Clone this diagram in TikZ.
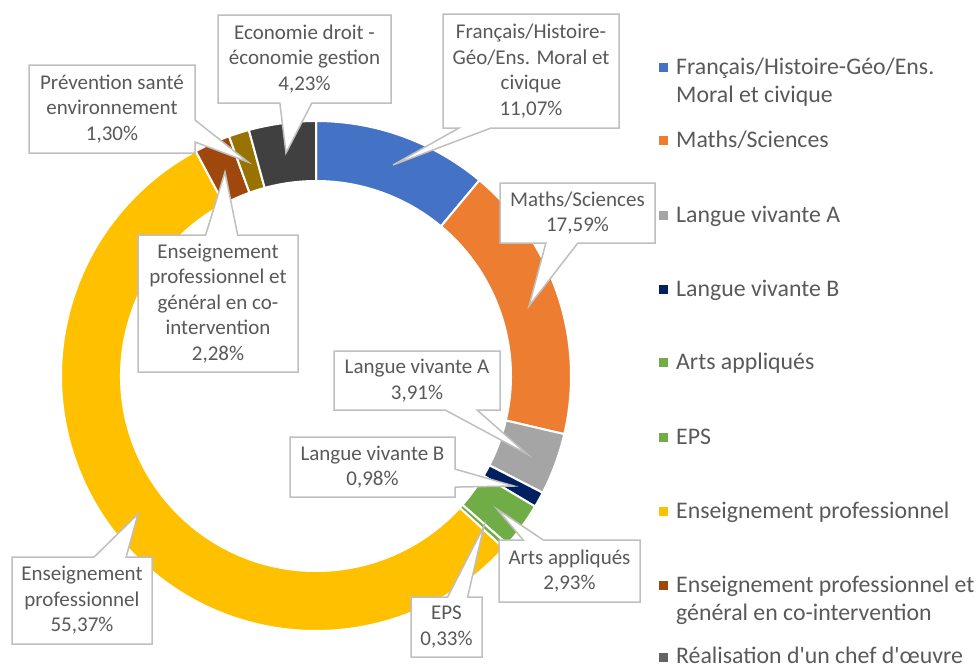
\documentclass[tikz,border=0pt]{standalone}
\usepackage{fontspec}
\setmainfont{Carlito}
\usetikzlibrary{shapes.callouts}

\definecolor{cFr}{HTML}{4472C4}
\definecolor{cMa}{HTML}{ED7D31}
\definecolor{cLa}{HTML}{A5A5A5}
\definecolor{cLb}{HTML}{002060}
\definecolor{cAr}{HTML}{70AD47}
\definecolor{cEp}{HTML}{70AD47}
\definecolor{cPro}{HTML}{FFC000}
\definecolor{cCo}{HTML}{9E480E}
\definecolor{cPse}{HTML}{997300}
\definecolor{cEco}{HTML}{404040}
\definecolor{cRea}{HTML}{636363}
\definecolor{txtgray}{HTML}{595959}
\definecolor{boxgray}{HTML}{BFBFBF}

\begin{document}
\begin{tikzpicture}[x=1pt, y=-1pt,
		callbox/.style={rectangle callout, draw=boxgray, line width=1.5pt, fill=white,
			text=txtgray, inner sep=0pt, align=center, callout pointer width=32pt,
			font=\fontsize{21}{25.5}\selectfont},
		legsq/.style={rectangle, inner sep=0pt, minimum size=9pt},
		legtxt/.style={anchor=base west, inner sep=0pt, align=left, text=txtgray,
			font=\fontsize{23.8}{28}\selectfont}]
	\useasboundingbox (0,0) rectangle (979,665);
	\clip (0,0) rectangle (979,665);

	% ring
	\begin{scope}[shift={(316,376)}]
		\foreach \a/\b/\c in {-90/-50.148/cFr, -50.148/13.176/cMa, 13.176/27.252/cLa,
				27.252/30.78/cLb, 30.78/41.328/cAr, 41.328/42.516/cEp, 42.516/241.848/cPro,
				241.848/250.056/cCo, 250.056/254.736/cPse, 254.736/270/cEco}
			\filldraw[fill=\c, draw=white, line width=2pt] (\a:255) arc[start angle=\a, end angle=\b, radius=255]
				-- (\b:195) arc[start angle=\b, end angle=\a, radius=195] -- cycle;
	\end{scope}

	% pointer tips
	\coordinate (pFr) at (393,165);
	\coordinate (pMa) at (529,306);
	\coordinate (pLa) at (527,454);
	\coordinate (pLb) at (514,486);
	\coordinate (pAr) at (497,509);
	\coordinate (pEp) at (484,526);
	\coordinate (pPro) at (138,514);
	\coordinate (pCo) at (225,172);
	\coordinate (pPse) at (248,162);
	\coordinate (pEco) at (286,153);

	% data labels
	\node[callbox, minimum width=176pt, minimum height=114pt, callout absolute pointer={(pFr)}] (bFr) at (531,71)
		{Français/Histoire-\\Géo/Ens. Moral et\\civique\\11,07\%};
	\node[callbox, minimum width=155pt, minimum height=60pt, callout absolute pointer={(pMa)}] (bMa) at (577.5,213)
		{Maths/Sciences\\17,59\%};
	\node[callbox, minimum width=166pt, minimum height=59pt, callout absolute pointer={(pLa)}] (bLa) at (417,380.5)
		{Langue vivante A\\3,91\%};
	\node[callbox, minimum width=165pt, minimum height=60pt, callout pointer width=18pt, callout absolute pointer={(pLb)}] (bLb) at (372.5,467)
		{Langue vivante B\\0,98\%};
	\node[callbox, minimum width=141pt, minimum height=62pt, callout pointer width=20pt, callout absolute pointer={(pAr)}] (bAr) at (569.5,571)
		{Arts appliqués\\2,93\%};
	\node[callbox, minimum width=71pt, minimum height=60pt, callout pointer width=20pt, callout absolute pointer={(pEp)}] (bEp) at (446.5,627)
		{EPS\\0,33\%};
	\node[callbox, minimum width=140pt, minimum height=87pt, callout absolute pointer={(pPro)}] (bPro) at (82,600.5)
		{Enseignement\\professionnel\\55,37\%};
	\node[callbox, minimum width=160pt, minimum height=137pt, callout absolute pointer={(pCo)}] (bCo) at (218,303.5)
		{Enseignement\\professionnel et\\général en co-\\intervention\\2,28\%};
	\node[callbox, minimum width=166pt, minimum height=88pt, callout pointer width=22pt, callout absolute pointer={(pPse)}] (bPse) at (112,109)
		{Prévention santé\\environnement\\1,30\%};
	\node[callbox, minimum width=173pt, minimum height=88pt, callout absolute pointer={(pEco)}] (bEco) at (304.5,59)
		{Economie droit -\\économie gestion\\4,23\%};

	% legend
	\node[legsq, fill=cFr] (kFr) at (663,67) {};
	\node[legtxt] (tFr) at (676,102) {Français/Histoire-Géo/Ens.\\Moral et civique};
	\node[legsq, fill=cMa] (kMa) at (663,140) {};
	\node[legtxt] (tMa) at (676,147) {Maths/Sciences};
	\node[legsq, fill=cLa] (kLa) at (663,215) {};
	\node[legtxt] (tLa) at (676,222) {Langue vivante A};
	\node[legsq, fill=cLb] (kLb) at (663,289) {};
	\node[legtxt] (tLb) at (676,296) {Langue vivante B};
	\node[legsq, fill=cAr] (kAr) at (663,362) {};
	\node[legtxt] (tAr) at (676,369) {Arts appliqués};
	\node[legsq, fill=cEp] (kEp) at (663,437) {};
	\node[legtxt] (tEp) at (676,444) {EPS};
	\node[legsq, fill=cPro] (kPro) at (663,511) {};
	\node[legtxt] (tPro) at (676,518) {Enseignement professionnel};
	\node[legsq, fill=cCo] (kCo) at (663,585) {};
	\node[legtxt] (tCo) at (676,620) {Enseignement professionnel et\\général en co-intervention};
	\node[legsq, fill=cRea] (kRea) at (663,657) {};
	\node[legtxt] (tRea) at (676,663) {Réalisation d\textquotesingle un chef d\textquotesingle œuvre};

\end{tikzpicture}
\end{document}
